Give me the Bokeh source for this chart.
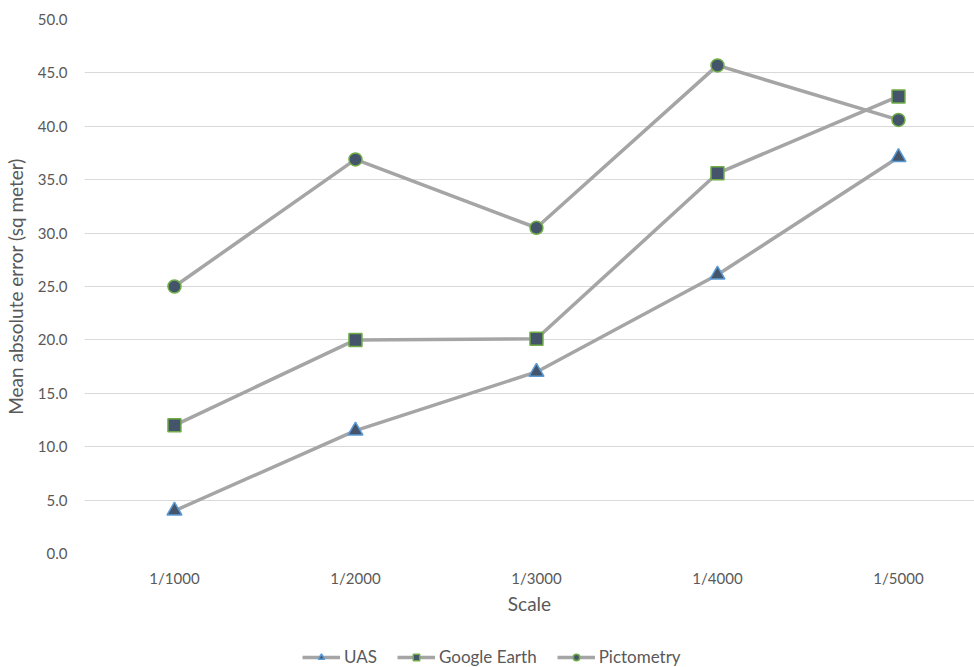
from bokeh.plotting import figure
from bokeh.layouts import column
from bokeh.models import (Range1d, FixedTicker, NumeralTickFormatter, Legend, LegendItem)
from bokeh.embed import file_html
from bokeh.resources import INLINE

# Map scales and mean absolute error per imagery source
scales = ["1/1000", "1/2000", "1/3000", "1/4000", "1/5000"]
uas = [4.0, 11.5, 17.0, 26.1, 37.1]
google_earth = [12.0, 20.0, 20.1, 35.6, 42.8]
pictometry = [25.0, 36.9, 30.5, 45.7, 40.6]
y_ticks = [0, 5, 10, 15, 20, 25, 30, 35, 40, 45, 50]

FONT = "Lato"
TEXT = "#595959"
LINE = "#A5A5A5"
FILL = "#44546A"
GREEN = "#70AD47"
BLUE = "#5B9BD5"

xs = list(range(len(scales)))
series = [
    ("UAS", uas, "triangle", BLUE, 15),
    ("Google Earth", google_earth, "square", GREEN, 13),
    ("Pictometry", pictometry, "circle", GREEN, 13),
]

LEGEND_H = 32

# main chart
p = figure(width=974, height=667 - LEGEND_H, output_backend="svg",
           toolbar_location=None,
           x_range=Range1d(-0.497, 4.42), y_range=Range1d(0, 50),
           min_border_top=19, min_border_right=0, min_border_left=84,
           min_border_bottom=667 - LEGEND_H - 553)
p.frame_width = 890
p.frame_height = 534
p.outline_line_color = None
p.background_fill_color = "white"
p.border_fill_color = "white"

p.xaxis.ticker = FixedTicker(ticks=xs)
p.xaxis.major_label_overrides = {i: s for i, s in enumerate(scales)}
p.yaxis.ticker = FixedTicker(ticks=y_ticks)
p.yaxis.formatter = NumeralTickFormatter(format="0.0")
for ax in (p.xaxis[0], p.yaxis[0]):
    ax.axis_line_color = None
    ax.major_tick_line_color = None
    ax.minor_tick_line_color = None
    ax.major_tick_out = 0
    ax.major_tick_in = 0
    ax.minor_tick_out = 0
    ax.minor_tick_in = 0
    ax.major_label_text_font = FONT
    ax.major_label_text_font_size = "15px"
    ax.major_label_text_color = TEXT
    ax.axis_label_text_font = FONT
    ax.axis_label_text_font_size = "19px"
    ax.axis_label_text_color = TEXT
    ax.axis_label_text_font_style = "normal"
p.xaxis.axis_label = "Scale"
p.yaxis.axis_label = "Mean absolute error (sq meter)"
p.xaxis.major_label_standoff = 15
p.yaxis.major_label_standoff = 17
p.xaxis.axis_label_standoff = 2
p.yaxis.axis_label_standoff = 8

p.xgrid.grid_line_color = None
p.ygrid.ticker = FixedTicker(ticks=y_ticks)
p.ygrid.grid_line_color = "#D9D9D9"
p.ygrid.grid_line_width = 1

for name, vals, marker, edge, size in series:
    p.line(xs, vals, line_color=LINE, line_width=3.5)
    p.scatter(xs, vals, marker=marker, size=size, fill_color=FILL,
              line_color=edge, line_width=1.5)

# legend strip underneath: same glyph styles, data kept outside its view
lg = figure(width=974, height=LEGEND_H, output_backend="svg",
            toolbar_location=None, x_axis_location=None, y_axis_location=None,
            x_range=Range1d(100, 101), y_range=Range1d(100, 101),
            min_border=0)
lg.outline_line_color = None
lg.background_fill_color = "white"
lg.border_fill_color = "white"
lg.grid.visible = False

items = []
for name, vals, marker, edge, size in series:
    ln = lg.line(xs, vals, line_color=LINE, line_width=3.5)
    sc = lg.scatter(xs, vals, marker=marker, size=size, fill_color=FILL,
                    line_color=edge, line_width=1.5)
    items.append(LegendItem(label=name, renderers=[ln, sc]))

legend = Legend(items=items, orientation="horizontal", location=(218, 0),
                label_text_font=FONT, label_text_font_size="17px",
                label_text_color=TEXT, glyph_width=38, glyph_height=16,
                label_height=18, spacing=20, label_standoff=4,
                border_line_color=None, background_fill_alpha=0,
                margin=0, padding=0)
lg.add_layout(legend, "center")

open("out.html", "w").write(file_html(column(p, lg, spacing=0), INLINE))
